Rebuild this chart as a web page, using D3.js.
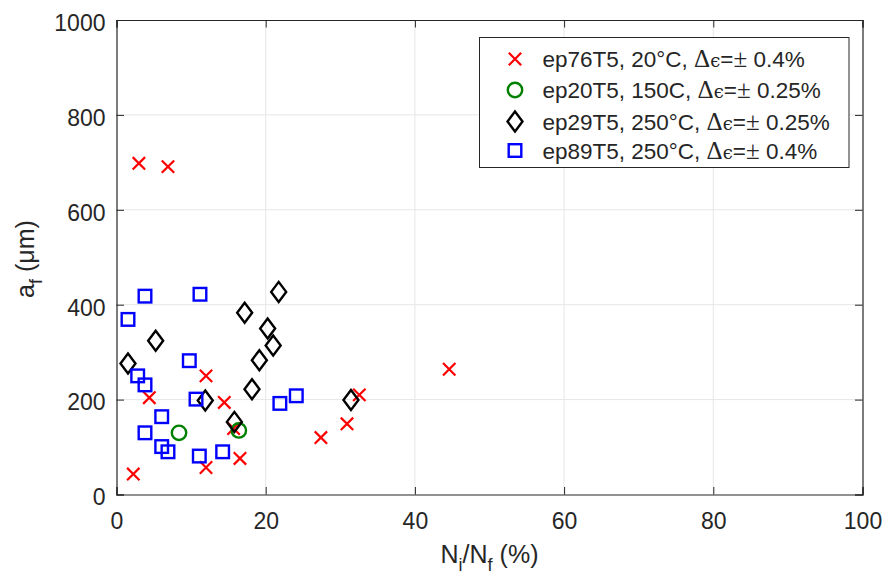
<!DOCTYPE html>
<html><head><meta charset="utf-8">
<script src="https://cdn.jsdelivr.net/npm/d3@7"></script>
<style>body{margin:0;background:#fff}svg{display:block}text{font-family:"Liberation Sans",Arial,sans-serif;fill:#262626}</style>
</head><body>
<svg id="c" width="885" height="574"></svg>
<script>
const xTicks=[0,20,40,60,80,100];
const yTicks=[0,200,400,600,800,1000];
const ep76=[[2.25,43],[4.4,204],[12.0,250],[14.45,194],[12.0,57],[16.55,76],[15.7,139],[3.0,698],[6.9,691],[44.6,264],[32.55,210],[30.9,149],[27.4,120]];
const ep20=[[8.38,130],[16.4,135]];
const ep29=[[1.54,276],[5.25,324],[11.9,198],[15.8,153],[18.16,222],[17.18,383],[19.15,283],[20.26,350],[21.0,314],[21.74,427],[31.43,199]];
const ep89=[[3.82,418],[11.19,422],[1.54,369],[9.76,282],[2.84,250],[3.82,231],[10.66,201],[6.06,164],[3.82,130],[6.06,101],[6.9,90],[11.1,81],[14.23,90],[21.9,192],[24.1,208]];
const legendLabels=[
 ["ep76T5, 20°C, ","0.4%"],
 ["ep20T5, 150C, ","0.25%"],
 ["ep29T5, 250°C, ","0.25%"],
 ["ep89T5, 250°C, ","0.4%"]];

const L=116.5,R=862.5,T=20,B=494.5;
const svg=d3.select("#c");
const x=d3.scaleLinear().domain([0,100]).range([L,R]);
const y=d3.scaleLinear().domain([0,1000]).range([B,T]);
const axisCol="#262626";

// grid
const g=svg.append("g");
g.selectAll(".gx").data(xTicks.slice(1,-1)).join("line").attr("x1",d=>x(d)).attr("x2",d=>x(d)).attr("y1",T).attr("y2",B).attr("stroke","#e6e6e6").attr("stroke-width",1);
g.selectAll(".gy").data(yTicks.slice(1,-1)).join("line").attr("y1",d=>y(d)).attr("y2",d=>y(d)).attr("x1",L).attr("x2",R).attr("stroke","#e6e6e6").attr("stroke-width",1);

// axes
const tl=7.5;
const xa=d3.axisBottom(x).tickValues(xTicks).tickSize(-tl).tickFormat(d3.format("d"));
const ya=d3.axisLeft(y).tickValues(yTicks).tickSize(-tl).tickPadding(11).tickFormat(d3.format("d"));
const gx=svg.append("g").attr("transform",`translate(0,${B})`).call(xa);
const gy=svg.append("g").attr("transform",`translate(${L},0)`).call(ya);
const gx2=svg.append("g").attr("transform",`translate(0,${T})`).call(d3.axisTop(x).tickValues(xTicks).tickSize(-tl).tickFormat(""));
const gy2=svg.append("g").attr("transform",`translate(${R},0)`).call(d3.axisRight(y).tickValues(yTicks).tickSize(-tl).tickFormat(""));
[gx,gy,gx2,gy2].forEach(a=>{a.selectAll("path").attr("stroke",axisCol).attr("stroke-width",1.2);a.selectAll("line").attr("stroke",axisCol);a.selectAll("text").style("font-size","23px").attr("fill",axisCol)});
gx.selectAll("text").attr("y",34.5).attr("dy",null);
gy.selectAll("text").attr("dy","0.45em");

// labels
const xl=svg.append("text").attr("x",x(50)).attr("y",562.5).attr("text-anchor","middle").style("font-size","25px");
xl.append("tspan").text("N");
xl.append("tspan").attr("dy",8).style("font-size","18px").text("i");
xl.append("tspan").attr("dy",-8).text("/N");
xl.append("tspan").attr("dy",8).style("font-size","18px").text("f");
xl.append("tspan").attr("dy",-8).text(" (%)");
const yl=svg.append("text").attr("transform",`translate(34,259) rotate(-90)`).attr("text-anchor","middle").style("font-size","25px");
yl.append("tspan").text("a");
yl.append("tspan").attr("dy",8).style("font-size","18px").text("f");
yl.append("tspan").attr("dy",-8).text(" (μm)");

// markers
function drawX(sel,s){sel.append("path").attr("d",`M${-s},${-s}L${s},${s}M${-s},${s}L${s},${-s}`).attr("stroke","#ff0000").attr("stroke-width",2.2).attr("fill","none");}
function drawO(sel){sel.append("circle").attr("r",7.2).attr("stroke","#008000").attr("stroke-width",2.4).attr("fill","none");}
function drawD(sel){sel.append("path").attr("d","M0,-10L7.5,0L0,10L-7.5,0Z").attr("stroke","#000").attr("stroke-width",2.4).attr("fill","none");}
function drawS(sel){sel.append("rect").attr("x",-6.3).attr("y",-6.3).attr("width",12.6).attr("height",12.6).attr("stroke","#0000ff").attr("stroke-width",2.4).attr("fill","none");}
const pts=svg.append("g");
function plot(data,fn){pts.append("g").selectAll("g").data(data).join("g").attr("transform",d=>`translate(${x(d[0])},${y(d[1])})`).each(function(){fn(d3.select(this),6.2)});}
plot(ep76,drawX);plot(ep20,drawO);plot(ep29,drawD);plot(ep89,drawS);

// legend
const lg=svg.append("g");
lg.append("rect").attr("x",479.5).attr("y",37.5).attr("width",369.5).attr("height",130).attr("fill","#fff").attr("stroke",axisCol).attr("stroke-width",1);
const rowsY=[59,90,121.5,150.5];
const fns=[drawX,drawO,drawD,drawS];
legendLabels.forEach((lab,i)=>{
  const m=lg.append("g").attr("transform",`translate(515,${rowsY[i]})`);
  fns[i](m,6.2);
  const t=lg.append("text").attr("x",542.5).attr("y",rowsY[i]+8).style("font-size","22.5px").attr("fill","#000");
  t.append("tspan").text(lab[0]);
  t.append("tspan").style("font-family","'Liberation Serif',serif").style("font-size","25px").text("Δ");
  t.append("tspan").style("font-family","'DejaVu Serif',serif").style("font-size","18px").text("ϵ");
  t.append("tspan").text("=");
  t.append("tspan").style("font-family","'Liberation Serif',serif").style("font-size","25px").text("±");
  t.append("tspan").text(" "+lab[1]);
});
</script>
</body></html>
